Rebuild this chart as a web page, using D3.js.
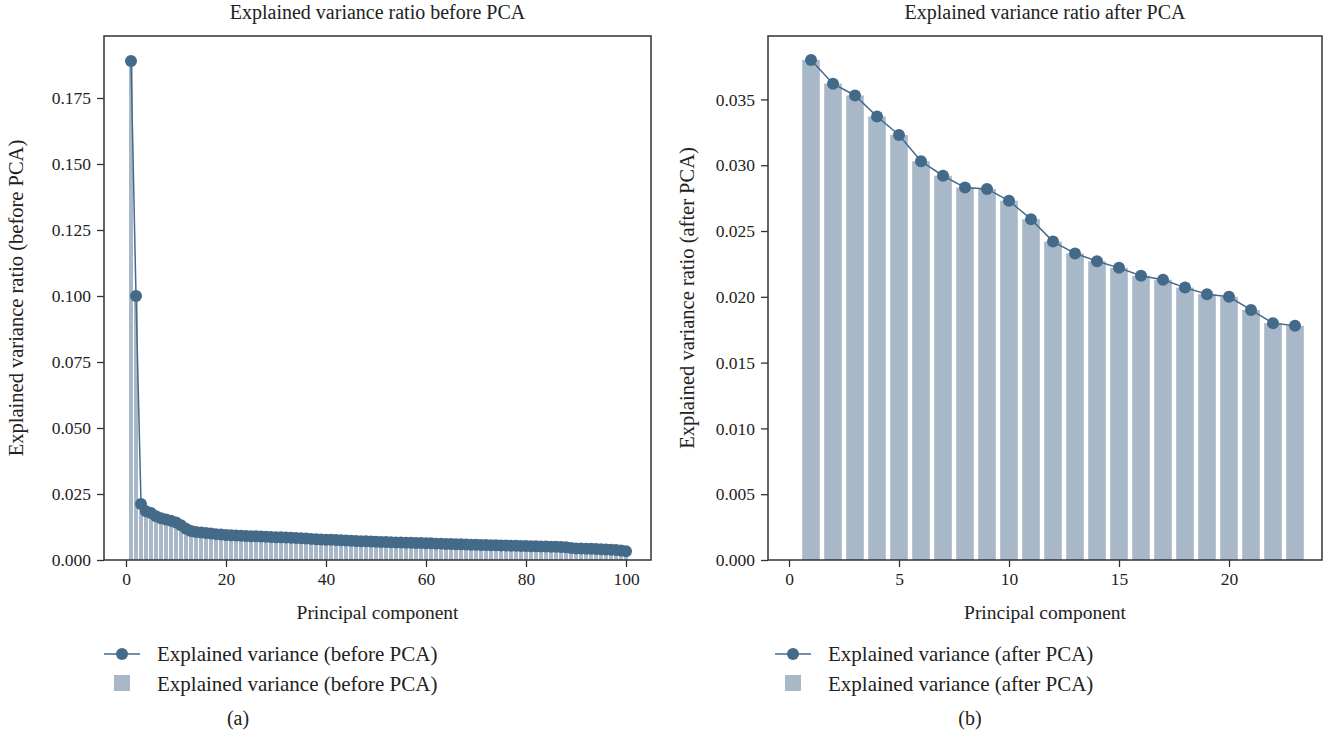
<!DOCTYPE html>
<html>
<head>
<meta charset="utf-8">
<script src="https://cdn.jsdelivr.net/npm/d3@7"></script>
<style>
  body { margin: 0; background: #fff; }
  text { font-family: "Liberation Serif", "DejaVu Serif", serif; fill: #222; }
</style>
</head>
<body>
<script>
const W = 1327, H = 737;

// explained variance ratio, before PCA (components 1..100)
const beforeVals = [
  0.1890, 0.1000, 0.0212, 0.0185, 0.0178, 0.0166, 0.0158, 0.0153, 0.0149, 0.0142,
  0.0132, 0.0118, 0.0110, 0.0106, 0.0104, 0.0102, 0.0100, 0.0098, 0.0097, 0.0095,
  0.0094, 0.0093, 0.0092, 0.0091, 0.0090, 0.0090, 0.0089, 0.0088, 0.0087, 0.0086,
  0.0086, 0.0085, 0.0084, 0.0083, 0.0082, 0.0081, 0.0080, 0.0079, 0.0078, 0.0077,
  0.0077, 0.0076, 0.0075, 0.0074, 0.0073, 0.0072, 0.0071, 0.0071, 0.0070, 0.0069,
  0.0068, 0.0068, 0.0067, 0.0066, 0.0066, 0.0065, 0.0065, 0.0064, 0.0064, 0.0063,
  0.0063, 0.0062, 0.0062, 0.0061, 0.0061, 0.0060, 0.0060, 0.0059, 0.0058, 0.0058,
  0.0057, 0.0057, 0.0056, 0.0056, 0.0055, 0.0055, 0.0054, 0.0054, 0.0053, 0.0053,
  0.0052, 0.0052, 0.0051, 0.0051, 0.0050, 0.0050, 0.0049, 0.0048, 0.0045, 0.0044,
  0.0044, 0.0043, 0.0043, 0.0042, 0.0041, 0.0040, 0.0039, 0.0038, 0.0036, 0.0033
];

// explained variance ratio, after PCA (components 1..23)
const afterVals = [
  0.0380, 0.0362, 0.0353, 0.0337, 0.0323, 0.0303, 0.0292, 0.0283, 0.0282, 0.0273,
  0.0259, 0.0242, 0.0233, 0.0227, 0.0222, 0.0216, 0.0213, 0.0207, 0.0202, 0.0200,
  0.0190, 0.0180, 0.0178
];

const beforeXTicks = [0, 20, 40, 60, 80, 100];
const beforeYTicks = [0, 0.025, 0.05, 0.075, 0.1, 0.125, 0.15, 0.175];
const afterXTicks = [0, 5, 10, 15, 20];
const afterYTicks = [0, 0.005, 0.01, 0.015, 0.02, 0.025, 0.03, 0.035];

const lineColor = '#446a8a', barColor = '#a8b8c8', axisColor = '#333';

const svg = d3.select('body').append('svg')
  .attr('width', W).attr('height', H);

function panel(cfg) {
  const x = d3.scaleLinear().domain(cfg.xDomain).range([cfg.left, cfg.right]);
  const y = d3.scaleLinear().domain(cfg.yDomain).range([cfg.bottom, cfg.top]);
  const pts = cfg.values.map((v, i) => ({pc: i + 1, v: v}));
  const g = svg.append('g');
  const bw = x(0.8) - x(0);

  // bars
  g.selectAll('rect.bar')
    .data(pts)
    .enter()
    .append('rect')
    .attr('class', 'bar')
    .attr('x', d => x(d.pc) - bw / 2)
    .attr('y', d => y(d.v))
    .attr('width', bw)
    .attr('height', d => y(0) - y(d.v))
    .attr('fill', barColor);

  // line + markers
  const line = d3.line().x(d => x(d.pc)).y(d => y(d.v));
  g.append('path')
    .attr('d', line(pts))
    .attr('fill', 'none')
    .attr('stroke', lineColor)
    .attr('stroke-width', 1.5);
  g.selectAll('circle.pt')
    .data(pts)
    .enter()
    .append('circle')
    .attr('class', 'pt')
    .attr('cx', d => x(d.pc))
    .attr('cy', d => y(d.v))
    .attr('r', 6)
    .attr('fill', lineColor);

  // axes
  const xAxis = g.append('g')
    .attr('transform', `translate(0,${cfg.bottom})`)
    .call(d3.axisBottom(x).tickValues(cfg.xTicks).tickSize(7).tickPadding(6).tickFormat(d3.format('d')));
  const yAxis = g.append('g')
    .attr('transform', `translate(${cfg.left},0)`)
    .call(d3.axisLeft(y).tickValues(cfg.yTicks).tickSize(7).tickPadding(6).tickFormat(d3.format('.3f')));
  [xAxis, yAxis].forEach(a => {
    a.select('.domain').remove();
    a.selectAll('line').attr('stroke', axisColor).attr('stroke-width', 1.3);
    a.selectAll('text').attr('font-size', 17.5).attr('fill', '#222')
      .style('font-family', '"Liberation Serif", serif');
  });

  // frame
  g.append('rect')
    .attr('x', cfg.left).attr('y', cfg.top)
    .attr('width', cfg.right - cfg.left).attr('height', cfg.bottom - cfg.top)
    .attr('fill', 'none').attr('stroke', axisColor).attr('stroke-width', 1.5);

  const cx = (cfg.left + cfg.right) / 2;
  g.append('text').attr('x', cx).attr('y', 19)
    .attr('text-anchor', 'middle').attr('font-size', 20).text(cfg.title);
  g.append('text').attr('x', cx).attr('y', 619)
    .attr('text-anchor', 'middle').attr('font-size', 19.5).text('Principal component');
  g.append('text')
    .attr('transform', `translate(${cfg.left - cfg.yLabelOff},${(cfg.top + cfg.bottom) / 2}) rotate(-90)`)
    .attr('text-anchor', 'middle').attr('font-size', 20.5).text(cfg.yLabel);

  // legend
  const lx = cfg.legendX;
  g.append('line').attr('x1', lx).attr('x2', lx + 36).attr('y1', 654).attr('y2', 654)
    .attr('stroke', lineColor).attr('stroke-width', 1.5);
  g.append('circle').attr('cx', lx + 18).attr('cy', 654).attr('r', 6).attr('fill', lineColor);
  g.append('text').attr('x', lx + 53).attr('y', 661).attr('font-size', 21).text(cfg.legend);
  g.append('rect').attr('x', lx + 10).attr('y', 675).attr('width', 16).attr('height', 16).attr('fill', barColor);
  g.append('text').attr('x', lx + 53).attr('y', 691).attr('font-size', 21).text(cfg.legend);

  g.append('text').attr('x', cfg.captionX).attr('y', 725)
    .attr('text-anchor', 'middle').attr('font-size', 20).text(cfg.caption);
}

panel({
  values: beforeVals,
  left: 104, right: 651, top: 36, bottom: 560,
  xDomain: [-4.4, 105], yDomain: [0, 0.19848],
  xTicks: beforeXTicks, yTicks: beforeYTicks,
  title: 'Explained variance ratio before PCA',
  yLabel: 'Explained variance ratio (before PCA)',
  legend: 'Explained variance (before PCA)',
  legendX: 104, captionX: 238, caption: '(a)', yLabelOff: 81
});

panel({
  values: afterVals,
  left: 768, right: 1322, top: 36, bottom: 560,
  xDomain: [-0.955, 24.227], yDomain: [0, 0.03982],
  xTicks: afterXTicks, yTicks: afterYTicks,
  title: 'Explained variance ratio after PCA',
  yLabel: 'Explained variance ratio (after PCA)',
  legend: 'Explained variance (after PCA)',
  legendX: 775, captionX: 970, caption: '(b)', yLabelOff: 74
});
</script>
</body>
</html>
